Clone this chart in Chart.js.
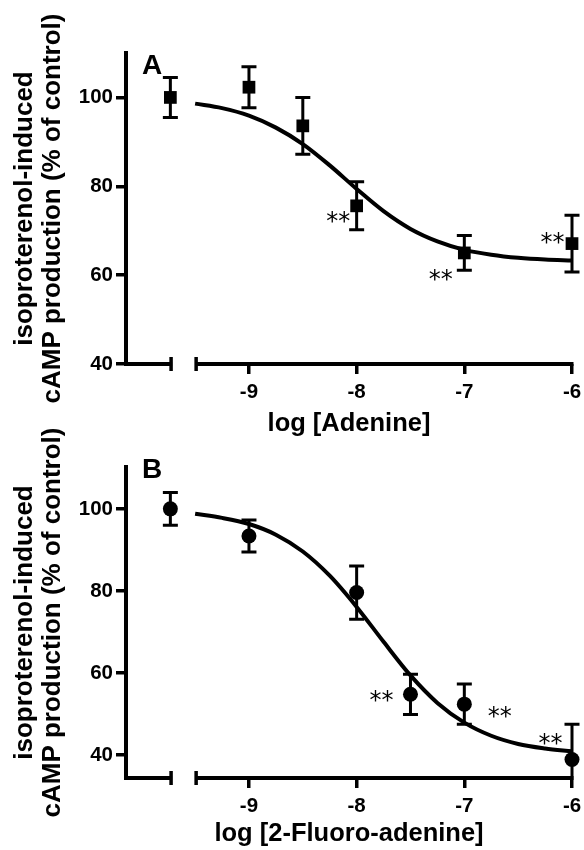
<!DOCTYPE html>
<html>
<head>
<meta charset="utf-8">
<script src="https://cdn.jsdelivr.net/npm/chart.js@4"></script>
<style>
  body { margin: 0; background: #fff; }
  .wrap { position: relative; width: 584px; height: 850px; }
  canvas { position: absolute; left: 0; }
  #chartA { top: 0; }
  #chartB { top: 420px; }
</style>
</head>
<body>
<div class="wrap">
  <canvas id="chartA" width="584" height="445"></canvas>
  <canvas id="chartB" width="584" height="430"></canvas>
</div>
<script>
// 軸ラベル・目盛り
const xTicks = [-9, -8, -7, -6];
const yTicks = [40, 60, 80, 100];
const yTitle = ['isoproterenol-induced', 'cAMP production (% of control)'];

// パネルA：アデニン（平均値とSEM）
const doseA = [-9, -8.5, -8, -7, -6];
const meanA = [102.3, 93.6, 75.6, 65.0, 67.1];
const semA = [4.6, 6.4, 5.4, 3.9, 6.4];
const controlA = [100, 4.5]; // 平均, SEM
const starDoseA = [-8.17, -7.22, -6.18];
const starValA = [73.0, 59.9, 68.1];

// パネルB：2-フルオロアデニン
const doseB = [-9, -8, -7.5, -7, -6];
const meanB = [93.4, 79.6, 54.8, 52.4, 38.9];
const semB = [3.9, 6.5, 4.9, 4.9, 8.6];
const controlB = [100, 4.0];
const starDoseB = [-7.77, -6.67, -6.2];
const starValB = [54.2, 50.3, 43.7];

// フィット曲線
const curveX = [-9.5, -9.25, -9, -8.75, -8.5, -8.25, -8, -7.75, -7.5, -7.25, -7, -6.75, -6.5, -6.25, -6];
const curveA = [98.6, 97.6, 95.9, 93.2, 89.5, 84.7, 79.4, 74.4, 70.4, 67.6, 65.7, 64.6, 63.9, 63.5, 63.3];
const curveB = [98.8, 97.8, 96.3, 93.7, 89.6, 83.7, 76.1, 67.6, 59.4, 52.7, 47.9, 44.7, 42.7, 41.6, 40.9];

// x軸の配置（コントロールは切れた軸の左側）
const xMin = -10.142, xMax = -6;
const controlX = -9.73;
const breakLeft = -9.714, breakRight = -9.5;

const FONT = "'Liberation Sans', Arial, sans-serif";

// 切れたx軸・エラーバー・**・パネル文字を描くプラグイン
const extrasPlugin = {
  id: 'extras',
  beforeDatasetsDraw(chart) {
    const p = chart.options.plugins.extras;
    const {ctx, chartArea, scales: {x, y}} = chart;
    ctx.save();
    ctx.strokeStyle = '#000';
    ctx.lineCap = 'butt';

    // x軸
    const ay = chartArea.bottom;
    ctx.lineWidth = 4;
    const xl = x.getPixelForValue(breakLeft);
    const xr = x.getPixelForValue(breakRight);
    ctx.beginPath();
    ctx.moveTo(chartArea.left - 2, ay); ctx.lineTo(xl, ay);
    ctx.moveTo(xr, ay); ctx.lineTo(chartArea.right + 1.5, ay);
    ctx.stroke();
    ctx.lineWidth = 3.5;
    ctx.beginPath();
    ctx.moveTo(xl - 1, ay - 7); ctx.lineTo(xl - 1, ay + 7);
    ctx.moveTo(xr + 1, ay - 7); ctx.lineTo(xr + 1, ay + 7);
    ctx.stroke();

    // エラーバー
    const doses = [controlX].concat(p.dose);
    const means = [p.control[0]].concat(p.mean);
    const sems = [p.control[1]].concat(p.sem);
    ctx.lineWidth = 3;
    doses.forEach(function (d, i) {
      const px = x.getPixelForValue(d);
      const hi = means[i] + sems[i];
      let lo = means[i] - sems[i];
      const clipped = lo < y.min;
      if (clipped) lo = y.min;
      const pyHi = y.getPixelForValue(hi);
      const pyLo = y.getPixelForValue(lo);
      ctx.beginPath();
      ctx.moveTo(px, pyHi); ctx.lineTo(px, pyLo);
      ctx.moveTo(px - 7.5, pyHi); ctx.lineTo(px + 7.5, pyHi);
      if (!clipped) { ctx.moveTo(px - 7.5, pyLo); ctx.lineTo(px + 7.5, pyLo); }
      ctx.stroke();
    });
    ctx.restore();
  },
  afterDatasetsDraw(chart) {
    const p = chart.options.plugins.extras;
    const {ctx, chartArea, scales: {x, y}} = chart;
    ctx.save();
    ctx.fillStyle = '#000';
    // 有意差の **
    ctx.font = "24px 'DejaVu Sans'";
    ctx.textAlign = 'center';
    ctx.textBaseline = 'middle';
    p.starDose.forEach(function (d, i) {
      ctx.fillText('**', x.getPixelForValue(d), y.getPixelForValue(p.starVal[i]) + 5);
    });
    // パネル文字
    ctx.font = 'bold 28px ' + FONT;
    ctx.textAlign = 'left';
    ctx.textBaseline = 'alphabetic';
    ctx.fillText(p.label, chartArea.left + 16, chartArea.top + p.labelDy);
    ctx.restore();
  }
};

function makeChart(id, p) {
  const curve = curveX.map(function (v, i) { return {x: v, y: p.curve[i]}; });
  const points = [{x: controlX, y: p.control[0]}].concat(
    p.dose.map(function (v, i) { return {x: v, y: p.mean[i]}; }));

  return new Chart(document.getElementById(id), {
    type: 'scatter',
    data: {
      datasets: [
        {
          type: 'line',
          data: curve,
          borderColor: '#000',
          borderWidth: 4,
          pointRadius: 0,
          fill: false,
          cubicInterpolationMode: 'monotone',
          clip: false,
          order: 2
        },
        {
          data: points,
          pointStyle: p.marker,
          pointRadius: p.radius,
          backgroundColor: '#000',
          borderColor: '#000',
          borderWidth: 0,
          clip: false,
          order: 1
        }
      ]
    },
    options: {
      responsive: false,
      animation: false,
      devicePixelRatio: 1,
      layout: { padding: { top: p.top, right: 12, left: 0, bottom: 0 } },
      plugins: {
        legend: { display: false },
        tooltip: { enabled: false },
        extras: p
      },
      scales: {
        x: {
          type: 'linear',
          min: xMin,
          max: xMax,
          afterBuildTicks: function (s) { s.ticks = xTicks.map(function (v) { return {value: v}; }); },
          afterFit: function (s) { s.height = p.xHeight; s.paddingLeft = 0; s.paddingRight = 0; },
          border: { display: false },
          grid: { drawOnChartArea: false, drawTicks: true, tickLength: 10, color: '#000', lineWidth: 3.5 },
          ticks: {
            color: '#000', padding: 6, maxRotation: 0,
            font: { family: FONT, size: 20.5, weight: 'bold' },
            callback: function (v) { return String(v); }
          },
          title: {
            display: true, text: p.xTitle, color: '#000',
            font: { family: FONT, size: 25.5, weight: 'bold' },
            padding: { top: 0, bottom: p.xTitlePad }
          }
        },
        y: {
          type: 'linear',
          min: p.yMin,
          max: p.yMax,
          afterBuildTicks: function (s) { s.ticks = yTicks.map(function (v) { return {value: v}; }); },
          afterFit: function (s) { s.width = 126; s.paddingTop = 0; s.paddingBottom = 0; },
          border: { display: true, color: '#000', width: 4 },
          grid: { drawOnChartArea: false, drawTicks: true, tickLength: 10, color: '#000', lineWidth: 3.5 },
          ticks: {
            color: '#000', padding: 3,
            font: { family: FONT, size: 20.5, weight: 'bold' }
          },
          title: {
            display: true, text: yTitle, color: '#000',
            font: { family: FONT, size: 26, weight: 'bold', lineHeight: '28px' },
            padding: { top: 11, bottom: 0 }
          }
        }
      }
    },
    plugins: [extrasPlugin]
  });
}

makeChart('chartA', {
  label: 'A', labelDy: 21,
  dose: doseA, mean: meanA, sem: semA, control: controlA,
  starDose: starDoseA, starVal: starValA, curve: curveA,
  marker: 'rect', radius: 9,
  yMin: 40, yMax: 110, top: 53, xHeight: 81, xTitlePad: 5.5,
  xTitle: 'log [Adenine]'
});

makeChart('chartB', {
  label: 'B', labelDy: 11,
  dose: doseB, mean: meanB, sem: semB, control: controlB,
  starDose: starDoseB, starVal: starValB, curve: curveB,
  marker: 'circle', radius: 7.5,
  yMin: 34.4, yMax: 110.2, top: 47, xHeight: 72, xTitlePad: 1,
  xTitle: 'log [2-Fluoro-adenine]'
});
</script>
</body>
</html>
